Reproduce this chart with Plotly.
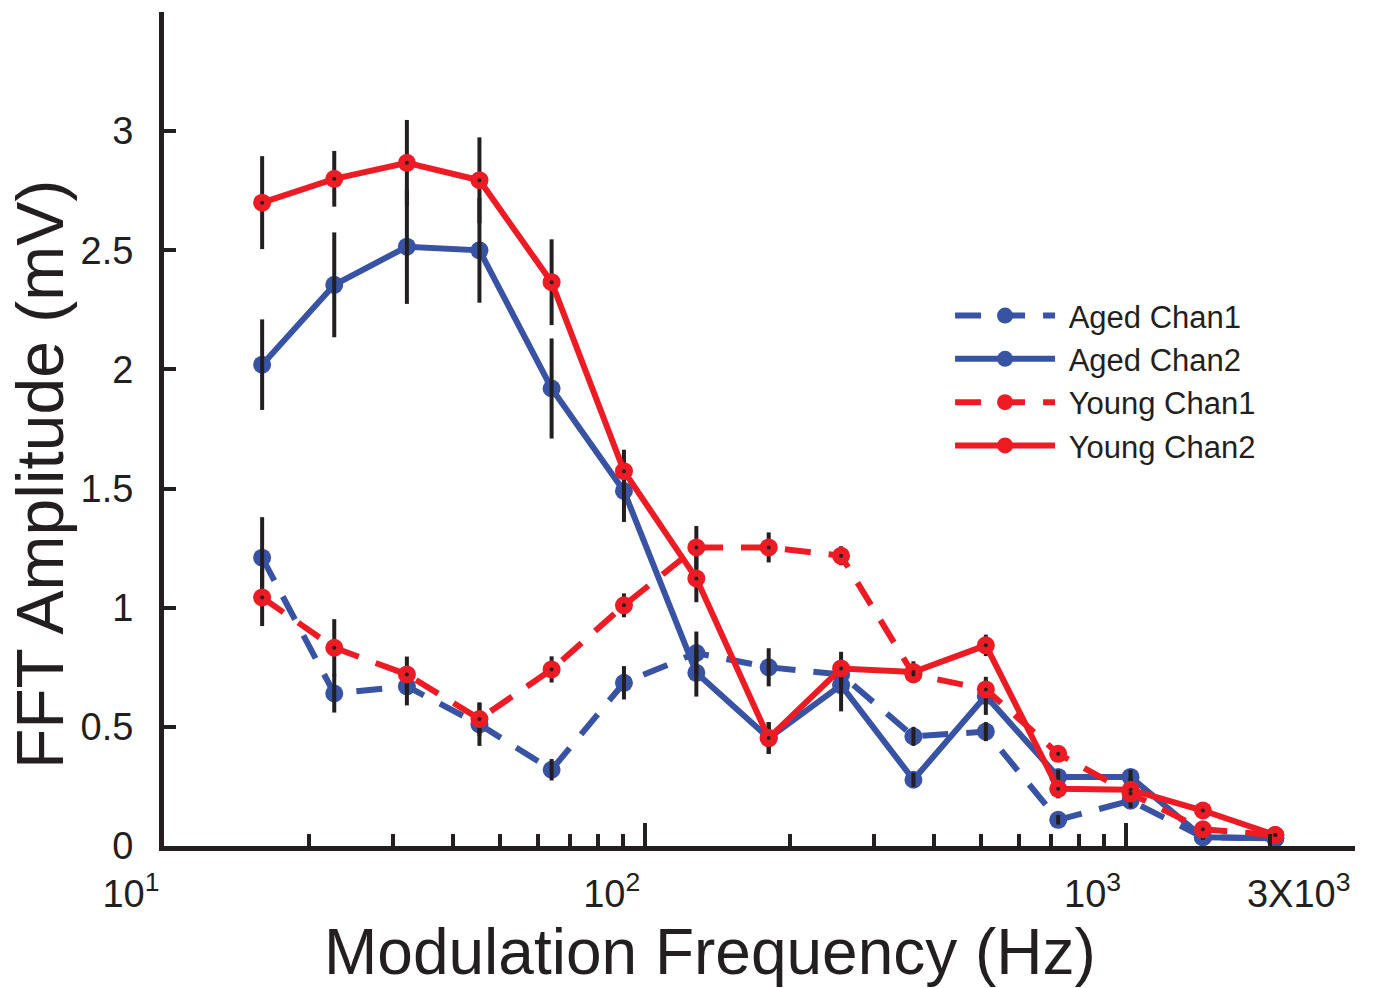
import plotly.graph_objects as go

# Modulation frequencies (Hz), half-octave steps
freq = [16, 22.6, 32, 45.3, 64, 90.5, 128, 181, 256, 362, 512, 724, 1024, 1448, 2048]

# FFT amplitude (mV) and symmetric error half-widths per group/channel
aged_chan1 = [1.21, 0.64, 0.67, 0.51, 0.32, 0.685, 0.81, 0.75, 0.72, 0.46, 0.48, 0.11, 0.19, 0.037, 0.032]
aged_chan1_err = [0.17, 0.08, 0.08, 0.09, 0.045, 0.07, 0.09, 0.08, 0.05, 0.04, 0.04, 0.02, 0.03, 0.01, 0.01]

aged_chan2 = [2.02, 2.355, 2.515, 2.50, 1.92, 1.49, 0.727, 0.453, 0.675, 0.278, 0.63, 0.29, 0.29, 0.037, 0.032]
aged_chan2_err = [0.19, 0.22, 0.24, 0.22, 0.21, 0.13, 0.10, 0.067, 0.11, 0.03, 0.08, 0.03, 0.03, 0.01, 0.01]

young_chan1 = [1.043, 0.832, 0.72, 0.533, 0.741, 1.01, 1.253, 1.253, 1.218, 0.72, 0.657, 0.387, 0.22, 0.07, 0.046]
young_chan1_err = [0.12, 0.12, 0.075, 0.07, 0.055, 0.05, 0.09, 0.063, 0.04, 0.03, 0.04, 0.02, 0.03, 0.01, 0.01]

young_chan2 = [2.70, 2.80, 2.867, 2.794, 2.366, 1.573, 1.123, 0.453, 0.745, 0.73, 0.842, 0.24, 0.236, 0.149, 0.046]
young_chan2_err = [0.195, 0.117, 0.18, 0.18, 0.18, 0.09, 0.10, 0.067, 0.07, 0.045, 0.045, 0.04, 0.05, 0.01, 0.01]

y_ticks = [0, 0.5, 1, 1.5, 2, 2.5, 3, 3.5]
y_tick_text = ["0", "0.5", "1", "1.5", "2", "2.5", "3", ""]
x_ticks = [10, 100, 1000, 3000]
x_tick_text = ["10<sup>1</sup>", "10<sup>2</sup>", "10<sup>3</sup>", "3X10<sup>3</sup>"]
x_minor = [20, 30, 40, 50, 60, 70, 80, 90, 200, 300, 400, 500, 600, 700, 800, 900, 2000]

BLUE = "#3953A4"
RED = "#ED1C24"
INK = "#231F20"
DASH = "26px,18px"
FONT = "Liberation Sans, Arial, Helvetica, sans-serif"

fig = go.Figure()


def series(y, name, color, dash):
    return go.Scatter(
        x=freq, y=y, name="\u00a0" + name, mode="lines+markers",
        line=dict(color=color, width=6, dash=dash),
        marker=dict(color=color, size=18),
    )


def errors(y, err):
    return go.Scatter(
        x=freq, y=y, mode="markers", showlegend=False, hoverinfo="skip",
        marker=dict(color="rgba(0,0,0,0)", size=1),
        error_y=dict(type="data", array=err, visible=True,
                     color=INK, thickness=4, width=0),
    )


fig.add_trace(series(aged_chan1, "Aged Chan1", BLUE, DASH))
fig.add_trace(series(aged_chan2, "Aged Chan2", BLUE, "solid"))
for yv, ev in [(aged_chan1, aged_chan1_err), (aged_chan2, aged_chan2_err),
               (young_chan1, young_chan1_err), (young_chan2, young_chan2_err)]:
    fig.add_trace(errors(yv, ev))
fig.add_trace(series(young_chan1, "Young Chan1", RED, DASH))
fig.add_trace(series(young_chan2, "Young Chan2", RED, "solid"))

# centre dots on the red markers
for yv in (young_chan1, young_chan2):
    fig.add_trace(go.Scatter(
        x=freq, y=yv, mode="markers", showlegend=False, hoverinfo="skip",
        marker=dict(color=INK, size=4),
    ))

# long ticks at the decades (overlay axis)
fig.add_trace(go.Scatter(x=[100, 1000], y=[None, None], xaxis="x2",
                         showlegend=False, hoverinfo="skip", mode="markers"))

fig.update_layout(
    width=1373, height=988,
    paper_bgcolor="white", plot_bgcolor="white",
    margin=dict(l=164, r=18, t=12, b=142),
    font=dict(family=FONT, color=INK),
    showlegend=True,
    legend=dict(
        x=0.66, y=0.668, xanchor="left", yanchor="top",
        font=dict(size=31, family=FONT, color=INK),
        itemwidth=100, tracegroupgap=0, bgcolor="rgba(0,0,0,0)",
    ),
    xaxis=dict(
        type="log", range=[1, 3.4771],
        showline=True, linecolor=INK, linewidth=5,
        ticks="inside", tickvals=x_ticks, ticktext=x_tick_text,
        ticklen=12, tickwidth=4, tickcolor=INK,
        ticklabelposition="outside left", ticklabelstandoff=10,
        tickfont=dict(size=38, family=FONT, color=INK),
        minor=dict(tickvals=x_minor, ticks="inside", ticklen=12,
                   tickwidth=4, tickcolor=INK, showgrid=False),
        showgrid=False, zeroline=False,
    ),
    xaxis2=dict(
        type="log", range=[1, 3.4771], overlaying="x", side="bottom",
        showline=False, showgrid=False, zeroline=False,
        ticks="inside", tickvals=[100, 1000], ticklen=23, tickwidth=4,
        tickcolor=INK, showticklabels=False,
    ),
    yaxis=dict(
        range=[0, 3.5],
        showline=True, linecolor=INK, linewidth=5,
        ticks="inside", tickvals=y_ticks, ticktext=y_tick_text,
        ticklen=12, tickwidth=4, tickcolor=INK,
        ticklabelstandoff=18,
        tickfont=dict(size=38, family=FONT, color=INK),
        showgrid=False, zeroline=False,
    ),
    annotations=[
        dict(text="Modulation Frequency (Hz)", xref="paper", yref="paper",
             x=0.4584, y=-0.127, xanchor="center", yanchor="middle",
             showarrow=False, font=dict(size=64, family=FONT, color=INK)),
        dict(text="FFT Amplitude (mV)", xref="paper", yref="paper",
             x=-0.104, y=0.445, xanchor="center", yanchor="middle",
             textangle=-90, showarrow=False,
             font=dict(size=66, family=FONT, color=INK)),
    ],
)

fig.write_html("out.html")
